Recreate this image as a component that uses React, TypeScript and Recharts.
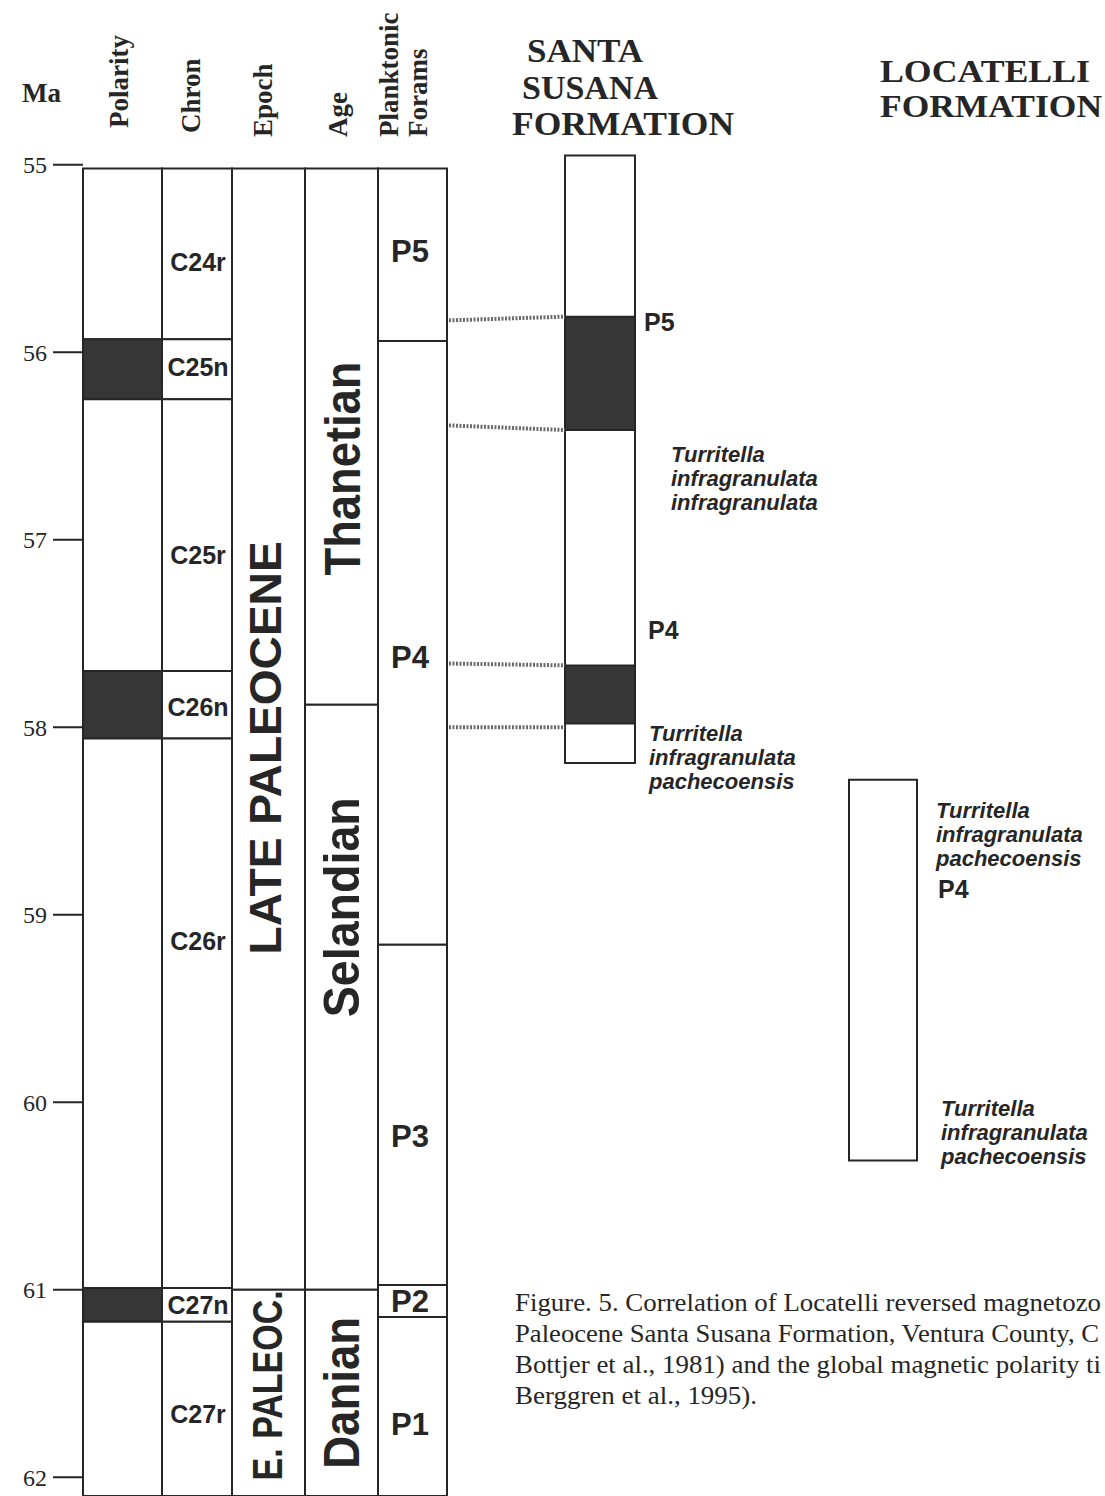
import React from 'react';
import { ComposedChart, XAxis, YAxis, ReferenceArea, ReferenceLine, ReferenceDot } from 'recharts';

// time scale, Ma
const maTicks = [55, 56, 57, 58, 59, 60, 61, 62];
const recordTop = 55.02;
const recordBase = 62.1;

const chronNames = ['C24r', 'C25n', 'C25r', 'C26n', 'C26r', 'C27n', 'C27r'];
const chronBases = [55.93, 56.25, 57.7, 58.06, 60.99, 61.17, 62.1];
const chronNormal = [false, true, false, true, false, true, false];
const chronLabelMa = [55.52, 56.08, 57.08, 57.89, 59.14, 61.08, 61.66];

const epochNames = ['LATE PALEOCENE', 'E. PALEOC.'];
const epochBases = [61.0, 62.1];
const epochLabelMa = [58.11, 61.51];

const ageNames = ['Thanetian', 'Selandian', 'Danian'];
const ageBases = [57.88, 61.0, 62.1];
const ageLabelMa = [56.62, 58.96, 61.55];

const foramNames = ['P5', 'P4', 'P3', 'P2', 'P1'];
const foramBases = [55.94, 59.16, 60.975, 61.145, 62.1];
const foramLabelMa = [55.46, 57.63, 60.18, 61.06, 61.72];

// Santa Susana Formation section
const santaTop = 54.95;
const santaBase = 58.19;
const santaNormalTops = [55.81, 57.67];
const santaNormalBases = [56.415, 57.98];
const santaZones = ['P5', 'P4'];
const santaZoneMa = [55.84, 57.48];
const santaTaxa = [
  ['Turritella', 'infragranulata', 'infragranulata'],
  ['Turritella', 'infragranulata', 'pachecoensis'],
];
const santaTaxaMa = [56.54, 58.03];

// correlation tie lines [left end, right end]
const tieLeftMa = [55.83, 56.39, 57.66, 58.0];
const tieRightMa = [55.81, 56.415, 57.67, 58.0];

// Locatelli Formation section
const locTop = 58.28;
const locBase = 60.31;
const locZones = ['P4'];
const locZoneMa = [58.86];
const locTaxa = [
  ['Turritella', 'infragranulata', 'pachecoensis'],
  ['Turritella', 'infragranulata', 'pachecoensis'],
];
const locTaxaMa = [58.44, 60.03];

const INK = '#262626';
const DARK = '#363636';
const SANS = 'Liberation Sans, Arial, Helvetica, sans-serif';
const SERIF = 'Liberation Serif, Times New Roman, serif';

// column x extents (chart pixels)
const COL: Record<string, [number, number]> = {
  polarity: [83, 162],
  chron: [162, 232],
  epoch: [232, 305],
  age: [305, 378],
  forams: [378, 447],
  santa: [565, 635],
  loc: [849, 917],
};

const rotatedStyle: Record<string, { size: number; len: number; x: number }> = {
  'LATE PALEOCENE': { size: 45, len: 413, x: 265 },
  'E. PALEOC.': { size: 43, len: 190, x: 267 },
  Thanetian: { size: 50, len: 214, x: 343 },
  Selandian: { size: 50, len: 220, x: 342 },
  Danian: { size: 50, len: 152, x: 342 },
};

const tops = (bases: number[]) => [recordTop, ...bases.slice(0, -1)];

const box = (key: string, col: [number, number], y1: number, y2: number, dark = false) => (
  <ReferenceArea
    key={key}
    x1={col[0]}
    x2={col[1]}
    y1={y1}
    y2={y2}
    fill={dark ? DARK : '#ffffff'}
    fillOpacity={1}
    stroke={INK}
    strokeWidth={2}
    ifOverflow="visible"
  />
);

const flatText = (text: string, size: number, anchor: 'start' | 'middle' = 'middle') => (p: any) => (
  <text
    x={p.cx}
    y={p.cy}
    textAnchor={anchor}
    dominantBaseline="central"
    fontFamily={SANS}
    fontWeight="bold"
    fontSize={size}
    fill={INK}
  >
    {text}
  </text>
);

const rotText = (text: string) => (p: any) => {
  const s = rotatedStyle[text];
  return (
    <text
      x={p.cx}
      y={p.cy}
      transform={`rotate(-90 ${p.cx} ${p.cy})`}
      textAnchor="middle"
      dominantBaseline="central"
      fontFamily={SANS}
      fontWeight="bold"
      fontSize={s.size}
      textLength={s.len}
      lengthAdjust="spacingAndGlyphs"
      fill={INK}
    >
      {text}
    </text>
  );
};

const taxonText = (lines: string[]) => (p: any) => (
  <text x={p.cx} y={p.cy} dominantBaseline="central" fontFamily={SANS} fontWeight="bold" fontStyle="italic" fontSize={22} fill={INK}>
    {lines.map((l, i) => (
      <tspan key={i} x={p.cx} dy={i === 0 ? 0 : 24}>
        {l}
      </tspan>
    ))}
  </text>
);

const label = (key: string, x: number, y: number, shape: (p: any) => React.ReactElement) => (
  <ReferenceDot key={key} x={x} y={y} r={0} ifOverflow="visible" shape={shape} />
);

const headers = [
  { t: 'Polarity', x: 128, y: 128 },
  { t: 'Chron', x: 200, y: 133 },
  { t: 'Epoch', x: 272, y: 137 },
  { t: 'Age', x: 347, y: 137 },
  { t: 'Planktonic', x: 398, y: 137 },
  { t: 'Forams', x: 427, y: 137 },
];

// caption as far as it shows in the figure
const caption = [
  { t: 'Figure. 5. Correlation of Locatelli reversed magnetozo', len: 586 },
  { t: 'Paleocene Santa Susana Formation, Ventura County, C', len: 584 },
  { t: 'Bottjer et al., 1981) and the global magnetic polarity ti', len: 586 },
  { t: 'Berggren et al., 1995).', len: 242 },
];

export default function App() {
  const chronTops = tops(chronBases);
  const epochTops = tops(epochBases);
  const ageTops = tops(ageBases);
  const foramTops = tops(foramBases);

  return (
    <div style={{ position: 'absolute', left: 0, top: 0, width: 1105, height: 1496, background: '#fff', overflow: 'hidden' }}>
      <ComposedChart width={1105} height={1496} margin={{ top: 146, right: 0, bottom: 0, left: 0 }}>
        <XAxis type="number" dataKey="x" domain={[83, 1105]} allowDataOverflow hide />
        <YAxis
          type="number"
          domain={[54.9, 62.1]}
          allowDataOverflow
          reversed
          ticks={maTicks}
          width={83}
          tickSize={30}
          tickMargin={6}
          axisLine={false}
          tickLine={{ stroke: INK, strokeWidth: 2 }}
          tick={{ fontSize: 24, fill: INK, fontFamily: SERIF }}
        />

        {chronNames.map((n, i) => box(`pol-${n}`, COL.polarity, chronTops[i], chronBases[i], chronNormal[i]))}
        {chronNames.map((n, i) => box(`chr-${n}`, COL.chron, chronTops[i], chronBases[i]))}
        {epochNames.map((n, i) => box(`ep-${n}`, COL.epoch, epochTops[i], epochBases[i]))}
        {ageNames.map((n, i) => box(`age-${n}`, COL.age, ageTops[i], ageBases[i]))}
        {foramNames.map((n, i) => box(`for-${n}`, COL.forams, foramTops[i], foramBases[i]))}

        {box('santa', COL.santa, santaTop, santaBase)}
        {santaNormalTops.map((t, i) => box(`santa-n${i}`, COL.santa, t, santaNormalBases[i], true))}
        {box('loc', COL.loc, locTop, locBase)}

        {tieLeftMa.map((m, i) => (
          <ReferenceLine
            key={`tie-${i}`}
            segment={[
              { x: COL.forams[1] + 2, y: m },
              { x: COL.santa[0], y: tieRightMa[i] },
            ]}
            stroke="#6a6a6a"
            strokeWidth={4}
            strokeDasharray="2 1.5"
            ifOverflow="visible"
          />
        ))}

        {chronNames.map((n, i) => label(`cl-${n}`, 198, chronLabelMa[i], flatText(n, 25)))}
        {epochNames.map((n, i) => label(`el-${n}`, rotatedStyle[n].x, epochLabelMa[i], rotText(n)))}
        {ageNames.map((n, i) => label(`al-${n}`, rotatedStyle[n].x, ageLabelMa[i], rotText(n)))}
        {foramNames.map((n, i) => label(`fl-${n}`, 410, foramLabelMa[i], flatText(n, 31)))}

        {santaZones.map((n, i) => label(`sz-${n}`, 644 + i * 4, santaZoneMa[i], flatText(n, 25, 'start')))}
        {santaTaxa.map((l, i) => label(`st-${i}`, i === 0 ? 671 : 649, santaTaxaMa[i], taxonText(l)))}
        {locZones.map((n, i) => label(`lz-${n}`, 938, locZoneMa[i], flatText(n, 25, 'start')))}
        {locTaxa.map((l, i) => label(`lt-${i}`, i === 0 ? 936 : 941, locTaxaMa[i], taxonText(l)))}
      </ComposedChart>

      <svg width={1105} height={1496} style={{ position: 'absolute', left: 0, top: 0, pointerEvents: 'none' }}>
        <g fontFamily={SERIF} fontWeight="bold" fill={INK}>
          <text x={22} y={102} fontSize={27}>Ma</text>
          {headers.map((h) => (
            <text key={h.t} x={h.x} y={h.y} fontSize={27} transform={`rotate(-90 ${h.x} ${h.y})`}>
              {h.t}
            </text>
          ))}
          <text x={527} y={62} fontSize={33} textLength={116} lengthAdjust="spacingAndGlyphs">SANTA</text>
          <text x={522} y={99} fontSize={33} textLength={136} lengthAdjust="spacingAndGlyphs">SUSANA</text>
          <text x={512} y={135} fontSize={33} textLength={222} lengthAdjust="spacingAndGlyphs">FORMATION</text>
          <text x={880} y={82} fontSize={31} textLength={210} lengthAdjust="spacingAndGlyphs">LOCATELLI</text>
          <text x={880} y={117} fontSize={31} textLength={222} lengthAdjust="spacingAndGlyphs">FORMATION</text>
        </g>
        <g fontFamily={SERIF} fontSize={25} fill={INK}>
          {caption.map((c, i) => (
            <text key={i} x={515} y={1311 + i * 31} textLength={c.len} lengthAdjust="spacingAndGlyphs">
              {c.t}
            </text>
          ))}
        </g>
      </svg>
    </div>
  );
}
